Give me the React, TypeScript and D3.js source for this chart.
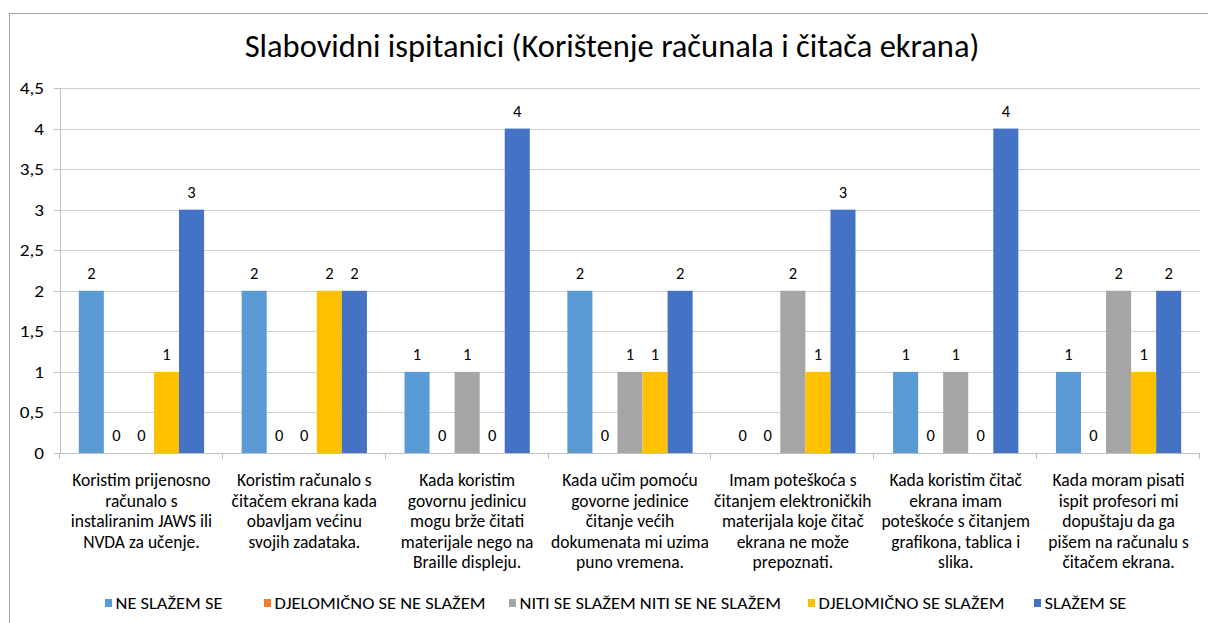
import React from "react";
import * as d3 from "d3";

const title = "Slabovidni ispitanici (Korištenje računala i čitača ekrana)";

const categories: string[][] = [
  ["Koristim prijenosno", "računalo s", "instaliranim JAWS ili", "NVDA za učenje."],
  ["Koristim računalo s", "čitačem ekrana kada", "obavljam većinu", "svojih zadataka."],
  ["Kada koristim", "govornu jedinicu", "mogu brže čitati", "materijale nego na", "Braille displeju."],
  ["Kada učim pomoću", "govorne jedinice", "čitanje većih", "dokumenata mi uzima", "puno vremena."],
  ["Imam poteškoća s", "čitanjem elektroničkih", "materijala koje čitač", "ekrana ne može", "prepoznati."],
  ["Kada koristim čitač", "ekrana imam", "poteškoće s čitanjem", "grafikona, tablica i", "slika."],
  ["Kada moram pisati", "ispit profesori mi", "dopuštaju da ga", "pišem na računalu s", "čitačem ekrana."],
];

const seriesNames = [
  "NE SLAŽEM SE",
  "DJELOMIČNO SE NE SLAŽEM",
  "NITI SE SLAŽEM NITI SE NE SLAŽEM",
  "DJELOMIČNO SE SLAŽEM",
  "SLAŽEM SE",
];
const seriesColors = ["#5B9BD5", "#ED7D31", "#A5A5A5", "#FFC000", "#4472C4"];

const neSlazem = [2, 2, 1, 2, 0, 1, 1];
const djelomicnoNe = [0, 0, 0, 0, 0, 0, 0];
const niti = [0, 0, 1, 1, 2, 1, 2];
const djelomicnoDa = [1, 2, 0, 1, 1, 0, 1];
const slazem = [3, 2, 4, 2, 3, 4, 2];
const seriesValues = [neSlazem, djelomicnoNe, niti, djelomicnoDa, slazem];

const yTicks = [0, 0.5, 1, 1.5, 2, 2.5, 3, 3.5, 4, 4.5];

const FONT = "Carlito, Calibri, Lato, 'Open Sans', sans-serif";

export default function App() {
  const W = 1208;
  const H = 623;
  const left = 60;
  const right = 1200;
  const top = 88;
  const bottom = 453;

  const y = d3.scaleLinear().domain([0, 4.5]).range([bottom, top]);
  const x0 = d3
    .scaleBand<number>()
    .domain(d3.range(categories.length))
    .range([left, right])
    .paddingInner(0)
    .paddingOuter(0);
  const barW = x0.bandwidth() / 6.5; // gap width 150% of bar
  const groupW = barW * 5;
  const x1 = d3
    .scaleBand<number>()
    .domain(d3.range(seriesNames.length))
    .range([0, groupW]);
  const fmt = (v: number) => String(v).replace(".", ",");

  const legendX = [105, 264, 509, 808, 1034];

  return (
    <svg
      width={W}
      height={H}
      style={{ position: "absolute", left: 0, top: 0, background: "#fff" }}
      fontFamily={FONT}
    >
      <rect x={9.5} y={13.5} width={1300} height={700} fill="#fff" stroke="#A0A0A0" strokeWidth={1} />
      <text x={612} y={57} textAnchor="middle" fontSize={32.5} fill="#000">
        {title}
      </text>
      {yTicks.map((t) => (
        <g key={t}>
          {t > 0 && (
            <line x1={left} x2={right} y1={Math.round(y(t)) + 0.5} y2={Math.round(y(t)) + 0.5} stroke="#D0D0D0" strokeWidth={1} />
          )}
          <line x1={left - 6} x2={left} y1={Math.round(y(t)) + 0.5} y2={Math.round(y(t)) + 0.5} stroke="#C0C0C0" />
          <text
            transform={`translate(44,${y(t) + 6}) scale(1.2,1)`}
            textAnchor="end"
            fontSize={16}
            fill="#000"
          >
            {fmt(t)}
          </text>
        </g>
      ))}
      {seriesValues.map((vals, si) =>
        vals.map((v, ci) => {
          const bx = (x0(ci) as number) + (x0.bandwidth() - groupW) / 2 + (x1(si) as number);
          return (
            <g key={`${si}-${ci}`}>
              {v > 0 && (
                <rect x={bx} y={y(v)} width={x1.bandwidth()} height={bottom - y(v)} fill={seriesColors[si]} />
              )}
              <text x={bx + x1.bandwidth() / 2} y={y(v) - 12} textAnchor="middle" fontSize={16.5} fill="#000">
                {v}
              </text>
            </g>
          );
        })
      )}
      <line x1={left + 0.5} x2={left + 0.5} y1={top} y2={bottom} stroke="#C0C0C0" />
      <line x1={left} x2={right} y1={bottom + 0.5} y2={bottom + 0.5} stroke="#C0C0C0" />
      {d3.range(categories.length + 1).map((i) => {
        const tx = Math.round(left + i * x0.bandwidth()) - 0.5;
        return <line key={i} x1={tx} x2={tx} y1={bottom} y2={bottom + 6} stroke="#C0C0C0" />;
      })}
      {categories.map((lines, ci) => (
        <text key={ci} textAnchor="middle" fontSize={17.5} fill="#000">
          {lines.map((l, li) => (
            <tspan key={li} x={(x0(ci) as number) + x0.bandwidth() / 2} y={486 + li * 20.6}>
              {l}
            </tspan>
          ))}
        </text>
      ))}
      {seriesNames.map((n, i) => (
        <g key={n}>
          <rect x={legendX[i]} y={599} width={7} height={8} fill={seriesColors[i]} />
          <text transform={`translate(${legendX[i] + 10.5},609) scale(1.19,1)`} fontSize={15.5} fill="#000">
            {n}
          </text>
        </g>
      ))}
    </svg>
  );
}
